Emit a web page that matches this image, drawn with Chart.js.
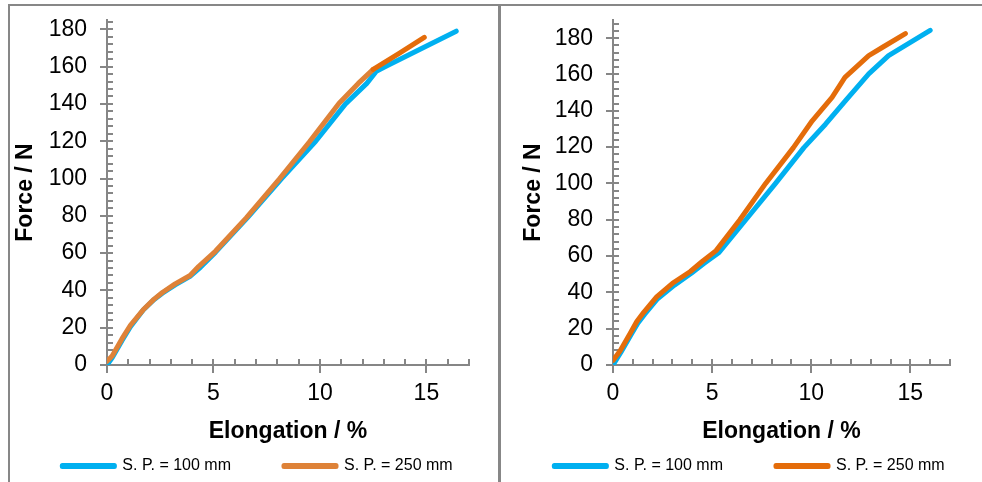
<!DOCTYPE html>
<html>
<head>
<meta charset="utf-8">
<script src="https://cdn.jsdelivr.net/npm/chart.js@4.4.1/dist/chart.umd.min.js"></script>
<style>
body { margin: 0; background: #fff; }
.frame { position: absolute; background: #878787; }
canvas { position: absolute; }
</style>
</head>
<body>
<div class="frame" style="left:8px;top:4px;width:974px;height:2px"></div>
<div class="frame" style="left:8px;top:4px;width:2px;height:478px"></div>
<div class="frame" style="left:498px;top:4px;width:3px;height:478px"></div>
<canvas id="chartLeft" width="488" height="476" style="left:10px;top:6px"></canvas>
<canvas id="chartRight" width="481" height="476" style="left:501px;top:6px"></canvas>
<script>
// series labels
var names = ["S. P. = 100 mm", "S. P. = 250 mm"];

// left panel
var l100x = [0, 0.25, 0.7, 1.1, 1.7, 2.2, 2.6, 3.2, 3.9, 4.4, 5.1, 6.6, 8.2, 9.8, 11.2, 12.2, 12.65, 13.1, 16.4];
var l100y = [0, 4, 13, 20.5, 29.5, 35, 38.5, 43, 47.5, 52.5, 60.5, 79, 100, 120, 140, 151, 157.5, 160.2, 179];
var l250x = [0, 0.25, 0.7, 1.1, 1.7, 2.2, 2.6, 3.2, 3.9, 4.3, 5.1, 6.55, 8.1, 9.5, 10.9, 11.8, 12.5, 13.7, 14.9];
var l250y = [2, 5, 14, 21.3, 29.6, 35.2, 38.9, 43.5, 48, 52.8, 61.1, 79, 99.8, 119.6, 140.4, 151, 158.5, 167, 175.7];

// right panel
var r100x = [0, 0.4, 0.9, 1.25, 1.6, 2.25, 3.1, 3.95, 4.6, 5.35, 6.7, 8.2, 9.63, 10.72, 11.72, 12.9, 13.9, 16.0];
var r100y = [0, 7, 16.5, 23, 28, 36.5, 44, 50.5, 56, 62, 80, 100, 119.7, 132.6, 145.5, 160.3, 170.4, 184.3];
var r250x = [0, 0.37, 0.87, 1.2, 1.55, 2.2, 3.0, 3.9, 4.5, 5.2, 6.4, 7.7, 9.1, 10.05, 11.05, 11.7, 12.9, 13.6, 14.75];
var r250y = [2.5, 8, 17.5, 24, 29, 37.5, 45, 51.5, 57, 63, 80, 100, 119.7, 134.5, 147.4, 158.4, 170.4, 175, 182.5];

var xTicks = [0, 5, 10, 15];
var yTicks = [0, 20, 40, 60, 80, 100, 120, 140, 160, 180];

var axisGray = "#868686";
Chart.defaults.font.family = "'Liberation Sans', Arial, sans-serif";
Chart.defaults.color = "#000";

function pts(xs, ys) {
    return xs.map(function (v, i) { return { x: v, y: ys[i] }; });
}

function noPad(s) {
    s.paddingTop = 0; s.paddingBottom = 0; s.paddingLeft = 0; s.paddingRight = 0;
}

// short inside ticks (minor every 1 on x, every 4 on y)
var minorTicks = {
    id: "minorTicks",
    beforeDatasetsDraw: function (chart) {
        var ctx = chart.ctx, x = chart.scales.x, y = chart.scales.y;
        ctx.save();
        ctx.strokeStyle = axisGray;
        ctx.lineWidth = 2;
        ctx.beginPath();
        for (var v = 0; v <= x.max; v += 1) {
            var px = Math.round(x.getPixelForValue(v));
            ctx.moveTo(px, y.bottom);
            ctx.lineTo(px, y.bottom - 6);
        }
        for (var w = 0; w <= y.max; w += 4) {
            var py = Math.round(y.getPixelForValue(w));
            ctx.moveTo(x.left, py);
            ctx.lineTo(x.left + 6, py);
        }
        ctx.stroke();
        ctx.restore();
    }
};

function makeChart(id, d100, d250, orange, yMax, cfg) {
    new Chart(id, {
        type: "line",
        data: {
            datasets: [{
                label: names[0],
                data: d100,
                borderColor: "#00B0F0",
                backgroundColor: "#00B0F0",
                borderWidth: 5,
                pointRadius: 0,
                borderCapStyle: "round",
                borderJoinStyle: "round",
                order: 1
            }, {
                label: names[1],
                data: d250,
                borderColor: orange,
                backgroundColor: orange,
                borderWidth: 5,
                pointRadius: 0,
                borderCapStyle: "round",
                borderJoinStyle: "round",
                segment: cfg.tail ? { borderColor: function (c) { return c.p0.parsed.x >= 12.4 ? "#E46C0A" : undefined; } } : {},
                order: 0
            }]
        },
        options: {
            responsive: false,
            animation: false,
            layout: { padding: { left: cfg.padLeft, right: -20, top: 14, bottom: -2 } },
            scales: {
                x: {
                    type: "linear",
                    min: 0,
                    max: 17,
                    afterBuildTicks: function (s) { s.ticks = xTicks.map(function (v) { return { value: v }; }); },
                    afterFit: function (s) { s.height = 40; noPad(s); },
                    ticks: { padding: 7, autoSkip: false, maxRotation: 0, font: { size: 23 }, color: "#000" },
                    grid: { drawOnChartArea: false, tickLength: 8, color: axisGray, lineWidth: 2 },
                    border: { color: axisGray, width: 2 },
                    title: { display: true, text: "Elongation / %", font: { size: 23, weight: "bold" }, color: "#000", padding: { top: 0, bottom: -40 } }
                },
                y: {
                    type: "linear",
                    min: 0,
                    max: yMax,
                    afterBuildTicks: function (s) { s.ticks = yTicks.map(function (v) { return { value: v }; }); },
                    afterFit: function (s) { s.width = cfg.yWidth; noPad(s); },
                    ticks: { padding: 13, autoSkip: false, font: { size: 23 }, color: "#000" },
                    grid: { drawOnChartArea: false, tickLength: 7, color: axisGray, lineWidth: 2 },
                    border: { color: axisGray, width: 2 },
                    title: { display: true, text: "Force / N", font: { size: 23, weight: "bold" }, color: "#000", padding: { top: cfg.titlePad, bottom: 0 } }
                },
                yR: {
                    type: "linear",
                    position: "right",
                    grid: { display: false },
                    border: { display: false },
                    ticks: { display: false },
                    afterFit: function (s) { s.width = cfg.rightGap; noPad(s); }
                }
            },
            plugins: {
                tooltip: { enabled: false },
                legend: {
                    position: "bottom",
                    labels: {
                        boxWidth: 52,
                        boxHeight: 1,
                        padding: 53,
                        color: "#000",
                        font: { size: 16 },
                        generateLabels: function (chart) {
                            return chart.data.datasets.map(function (ds, i) {
                                return {
                                    text: ds.label,
                                    fillStyle: ds.borderColor,
                                    strokeStyle: ds.borderColor,
                                    lineWidth: 5,
                                    lineJoin: "round",
                                    lineCap: "round",
                                    fontColor: "#000",
                                    hidden: false,
                                    datasetIndex: i
                                };
                            });
                        }
                    }
                }
            }
        },
        plugins: [minorTicks]
    });
}

makeChart("chartLeft", pts(l100x, l100y), pts(l250x, l250y), "#DE8238", 185,
    { padLeft: -13, yWidth: 110, rightGap: 49, titlePad: 15, tail: true });
makeChart("chartRight", pts(r100x, r100y), pts(r250x, r250y), "#E46C0A", 190,
    { padLeft: -4, yWidth: 116, rightGap: 52, titlePad: 23, tail: false });
</script>
</body>
</html>
